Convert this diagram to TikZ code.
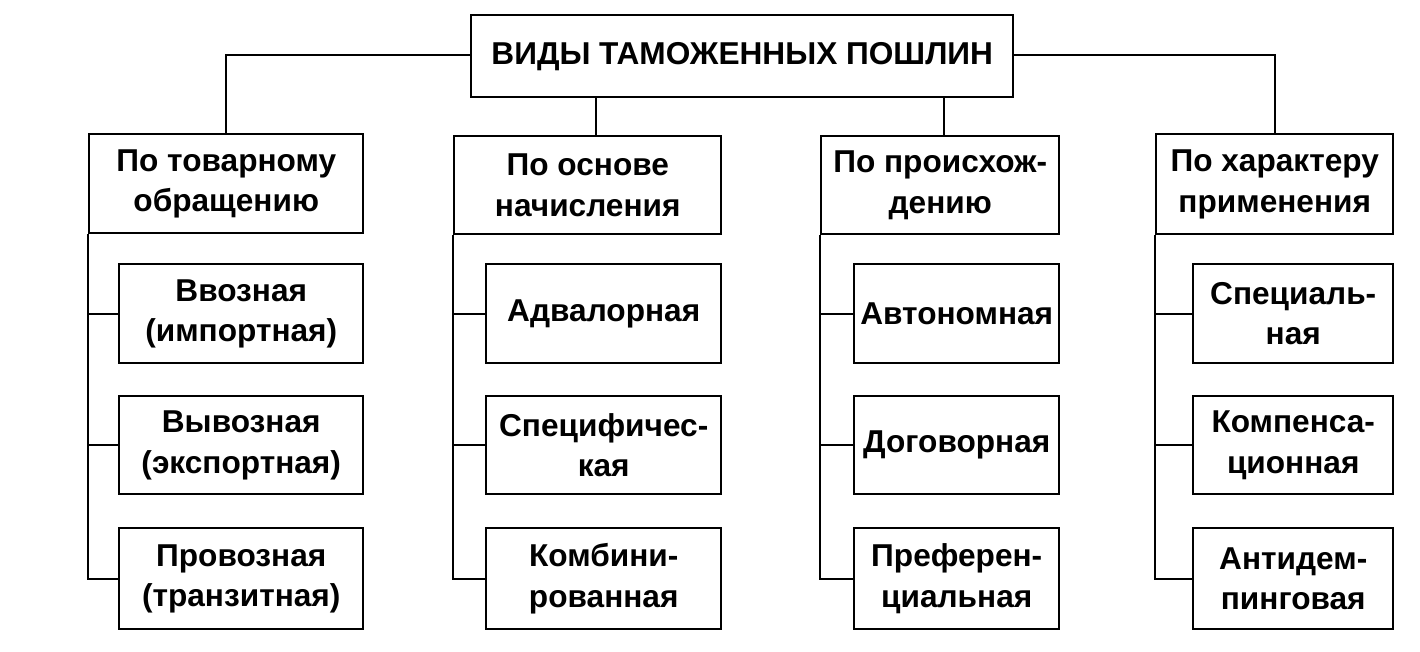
\documentclass[tikz,border=0pt]{standalone}
\usepackage{fontspec}
\setmainfont{Liberation Sans}
\begin{document}
\begin{tikzpicture}[x=0.02cm,y=-0.02cm,line width=1.4pt,
    font=\bfseries\fontsize{18}{23}\selectfont,
    box/.style={draw,align=center,inner sep=0pt,anchor=north west}]
    % Bounding area of the scheme
    \useasboundingbox (0,0) rectangle (1420,652);
    \def\bx#1#2#3#4#5#6{\node[box,minimum width=#4*0.02cm,minimum height=#5*0.02cm] (#1) at (#2,#3) {#6};}

    % Root
    \bx{root}{470}{14}{542}{82}{ВИДЫ ТАМОЖЕННЫХ ПОШЛИН}

    % Groups
    \bx{gA}{88}{133}{274}{99}{По товарному\\обращению}
    \bx{gB}{453}{135}{267}{98}{По основе\\начисления}
    \bx{gC}{820}{135}{238}{98}{По происхож-\\дению}
    \bx{gD}{1155}{133}{237}{100}{По характеру\\применения}

    % Kinds
    \bx{a1}{118}{263}{244}{99}{Ввозная\\(импортная)}
    \bx{a2}{118}{395}{244}{98}{Вывозная\\(экспортная)}
    \bx{a3}{118}{527}{244}{101}{Провозная\\(транзитная)}
    \bx{b1}{485}{263}{235}{99}{Адвалорная}
    \bx{b2}{485}{395}{235}{98}{Специфичес-\\кая}
    \bx{b3}{485}{527}{235}{101}{Комбини-\\рованная}
    \bx{c1}{853}{263}{205}{99}{Автономная}
    \bx{c2}{853}{395}{205}{98}{Договорная}
    \bx{c3}{853}{527}{205}{101}{Преферен-\\циальная}
    \bx{d1}{1192}{263}{200}{99}{Специаль-\\ная}
    \bx{d2}{1192}{395}{200}{98}{Компенса-\\ционная}
    \bx{d3}{1192}{527}{200}{101}{Антидем-\\пинговая}

    % Connectors from root
    \draw (root.west |- 0,55) -| (gA.north);
    \draw (root.east |- 0,55) -| (gD.north);
    \draw (root.south -| 596,0) -- (gB.north -| 596,0);
    \draw (root.south -| 944,0) -- (gC.north -| 944,0);

    % Brackets
    \foreach \g/\k in {gA/a,gB/b,gC/c,gD/d} {
      \draw (\g.south west) |- (\k3.west);
      \draw (\g.south west |- \k1.west) -- (\k1.west);
      \draw (\g.south west |- \k2.west) -- (\k2.west);
    }
\end{tikzpicture}
\end{document}
